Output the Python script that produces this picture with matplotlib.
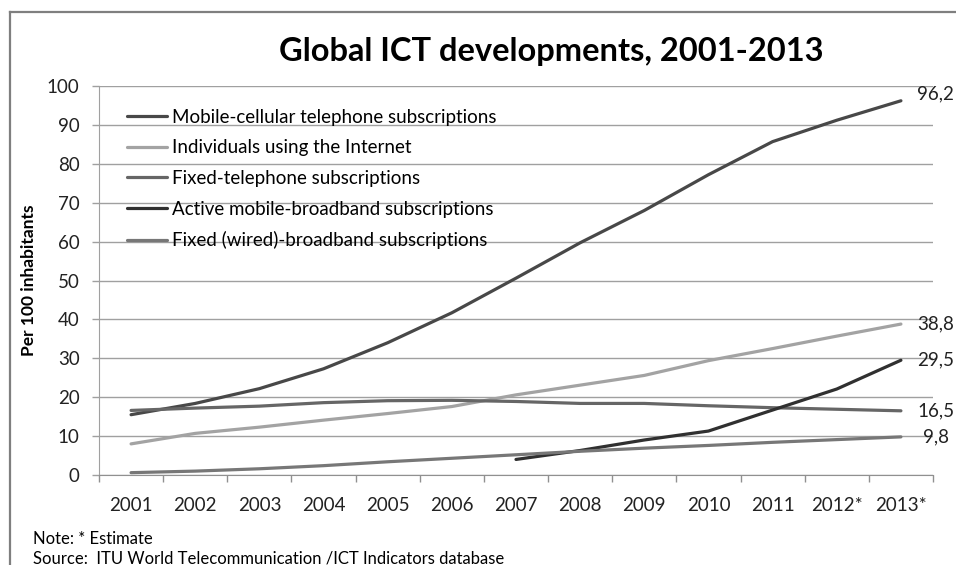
import numpy as np
import matplotlib
matplotlib.use("Agg")
import matplotlib.pyplot as plt
from matplotlib.lines import Line2D

plt.rcParams["font.family"] = ["Lato", "DejaVu Sans"]

years = ["2001", "2002", "2003", "2004", "2005", "2006", "2007",
         "2008", "2009", "2010", "2011", "2012*", "2013*"]

mobile_cellular = [15.5, 18.4, 22.2, 27.3, 34.0, 41.7, 50.6, 59.7, 68.0, 77.2, 85.7, 91.2, 96.2]
internet = [8.0, 10.7, 12.3, 14.1, 15.8, 17.6, 20.6, 23.1, 25.6, 29.4, 32.5, 35.7, 38.8]
fixed_tel = [16.6, 17.2, 17.7, 18.6, 19.1, 19.2, 18.9, 18.4, 18.4, 17.8, 17.3, 16.9, 16.5]
mobile_bb = [None, None, None, None, None, None, 4.0, 6.3, 9.0, 11.3, 16.7, 22.1, 29.5]
fixed_bb = [0.6, 1.0, 1.6, 2.4, 3.4, 4.3, 5.2, 6.1, 6.9, 7.6, 8.4, 9.1, 9.8]

series = [
    ("Mobile-cellular telephone subscriptions", mobile_cellular, "#484848"),
    ("Individuals using the Internet", internet, "#a3a3a3"),
    ("Fixed-telephone subscriptions", fixed_tel, "#666666"),
    ("Active mobile-broadband subscriptions", mobile_bb, "#303030"),
    ("Fixed (wired)-broadband subscriptions", fixed_bb, "#777777"),
]

W, H = 956, 565
fig = plt.figure(figsize=(W / 100, H / 100), dpi=100)
ax = fig.add_axes([99 / W, 1 - 475 / H, (933 - 99) / W, (475 - 86) / H])

x = np.arange(len(years))
for name, vals, col in series:
    v = np.array([np.nan if a is None else a for a in vals], dtype=float)
    ax.plot(x, v, color=col, lw=2.3, label=name, solid_capstyle="round", zorder=3)

# end labels
end_off = {"96,2": 5}
for name, vals, col in series:
    val = vals[-1]
    txt = ("%.1f" % val).replace(".", ",")
    ax.annotate(txt, xy=(x[-1], val), xytext=(25, end_off.get(txt, 0)),
                textcoords="offset points", ha="center", va="center",
                fontsize=13.5, color="#222222", annotation_clip=False)

ax.set_xlim(-0.5, len(years) - 0.5)
ax.set_ylim(0, 100)
ax.set_yticks(np.arange(0, 101, 10))
ax.yaxis.grid(True, color="#a0a0a0", lw=1)
ax.set_axisbelow(True)

ax.set_xticks(x)
ax.set_xticklabels(years)
ax.set_xticks(np.arange(-0.5, len(years), 1), minor=True)
ax.tick_params(axis="x", which="major", length=0, pad=16, labelsize=13.5, colors="#222222")
ax.tick_params(axis="x", which="minor", length=5, width=1, color="#909090", direction="out")
ax.tick_params(axis="y", length=5, width=1, color="#a0a0a0", pad=9, labelsize=13.5, labelcolor="#222222")

for s in ["top", "right"]:
    ax.spines[s].set_visible(False)
ax.spines["left"].set_color("#a0a0a0")
ax.spines["bottom"].set_color("#909090")

ax.set_ylabel("Per 100 inhabitants", fontsize=12.5, fontweight="bold", labelpad=7)

leg = ax.legend(loc="upper left", bbox_to_anchor=(127 / W, 1 - 109 / H),
                bbox_transform=fig.transFigure, frameon=False, fontsize=13.5,
                handlelength=2.13, handletextpad=0.27, labelspacing=0.72,
                borderaxespad=0, borderpad=0)

fig.text(551 / W, 1 - 61 / H, "Global ICT developments, 2001-2013",
         ha="center", va="baseline", fontsize=23.5, fontweight="bold")

fig.text(33 / W, 1 - 539 / H, "Note: * Estimate", ha="left", va="center", fontsize=12)
fig.text(33 / W, 1 - 558 / H, "Source:  ITU World Telecommunication /ICT Indicators database",
         ha="left", va="center", fontsize=12)

# outer frame (continues beyond the crop)
fig.add_artist(Line2D([10 / W, 10 / W], [1 - 12 / H, 0], transform=fig.transFigure,
                      color="#7f7f7f", lw=1.6))
fig.add_artist(Line2D([10 / W, 1], [1 - 12 / H, 1 - 12 / H], transform=fig.transFigure,
                      color="#7f7f7f", lw=1.6))

plt.savefig("out.png", dpi=100)
